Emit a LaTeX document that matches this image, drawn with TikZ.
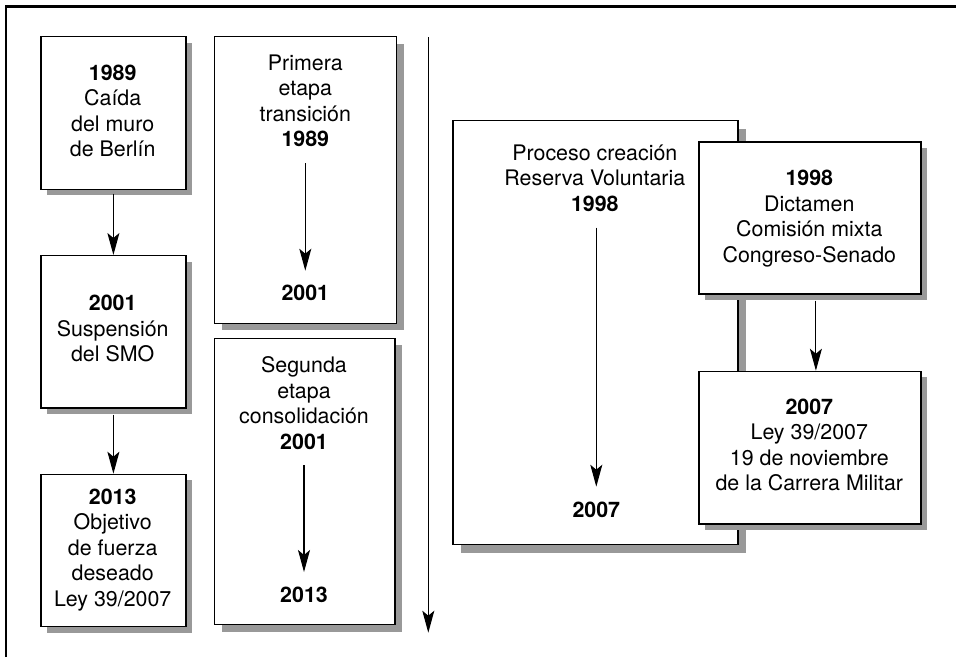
\documentclass[tikz,border=0pt]{standalone}
\usepackage{fontspec}
\setmainfont{TeX Gyre Heros}
\usetikzlibrary{arrows.meta,shadows}
\begin{document}
\begin{tikzpicture}[x=1pt,y=-1pt,
  box/.style={draw, line width=1.2pt, fill=white, inner sep=0pt, anchor=north west},
  shad/.style={drop shadow={shadow xshift=#1, shadow yshift=-#1, fill=black!40, opacity=1, draw=none}},
  txt/.style={anchor=base, align=center, inner sep=0pt, font=\fontsize{21.4}{25.5}\selectfont},
  arr/.style={line width=1.1pt, -{Stealth[length=22pt,width=12pt,inset=5pt]}}]
\useasboundingbox (0,0) rectangle (956,657);
% frame
\draw[line width=2.5pt] (6,657) -- (6,6.3) -- (956,6.3);
% left column
\node[box,shad=6pt,minimum width=145pt,minimum height=152.7pt] (A) at (40.3,36) {};
\node[txt] (At) at (112.7,156.9) {\textbf{1989}\\Caída\\del muro\\de Berlín};
\node[box,shad=6pt,minimum width=145pt,minimum height=152.3pt] (A2) at (40.3,255) {};
\node[txt] (A2t) at (112.7,361.7) {\textbf{2001}\\Suspensión\\del SMO};
\node[box,shad=6pt,minimum width=145pt,minimum height=152.3pt] (A3) at (40.3,473.7) {};
\node[txt] (A3t) at (112.7,606.4) {\textbf{2013}\\Objetivo\\de fuerza\\deseado\\Ley 39/2007};
\draw[arr,shorten <=4pt] (A.south) -- (A2.north);
\draw[arr,shorten <=6pt] (A2.south) -- (A3.north);
% second column
\node[box,shad=7pt,minimum width=182pt,minimum height=286.7pt] (B) at (214,36) {};
\node[txt] (Bt) at (305.3,146.9) {Primera\\etapa\\transición\\\textbf{1989}};
\node[txt] (By) at (305.3,300.7) {\textbf{2001}};
\coordinate (b1) at (305.3,163);
\coordinate (b2) at (305.3,270.7);
\draw[arr] (b1) -- (b2);
\node[box,shad=7pt,minimum width=180.3pt,minimum height=286.3pt] (B2) at (214,337.7) {};
\node[txt] (B2t) at (304,449.2) {Segunda\\etapa\\consolidación\\\textbf{2001}};
\node[txt] (B2y) at (304,602.7) {\textbf{2013}};
\coordinate (c1) at (304,465);
\coordinate (c2) at (304,572);
\draw[arr] (c1) -- (c2);
% timeline
\coordinate (t1) at (428.3,37);
\coordinate (t2) at (428.3,632.7);
\draw[arr] (t1) -- (t2);
% right part
\node[box,shad=8pt,minimum width=285pt,minimum height=424pt] (C) at (452.3,120) {};
\node[txt] (Ct) at (594.8,211) {Proceso creación\\Reserva Voluntaria\\\textbf{1998}};
\node[txt] (Cy) at (596.3,517.7) {\textbf{2007}};
\coordinate (d1) at (596.3,227.7);
\coordinate (d2) at (596.3,486.7);
\draw[arr] (d1) -- (d2);
\node[box,shad=6pt,minimum width=222pt,minimum height=152pt] (D) at (698.3,141.3) {};
\node[txt] (Dt) at (809.3,262.2) {\textbf{1998}\\Dictamen\\Comisión mixta\\Congreso-Senado};
\node[box,shad=6pt,minimum width=222pt,minimum height=152.6pt] (E) at (698.3,370.7) {};
\node[txt] (Et) at (809.3,490.9) {\textbf{2007}\\Ley 39/2007\\19 de noviembre\\de la Carrera Militar};
\draw[arr,shorten <=6pt] ([xshift=6pt]D.south) -- ([xshift=6pt]E.north);
\end{tikzpicture}
\end{document}
